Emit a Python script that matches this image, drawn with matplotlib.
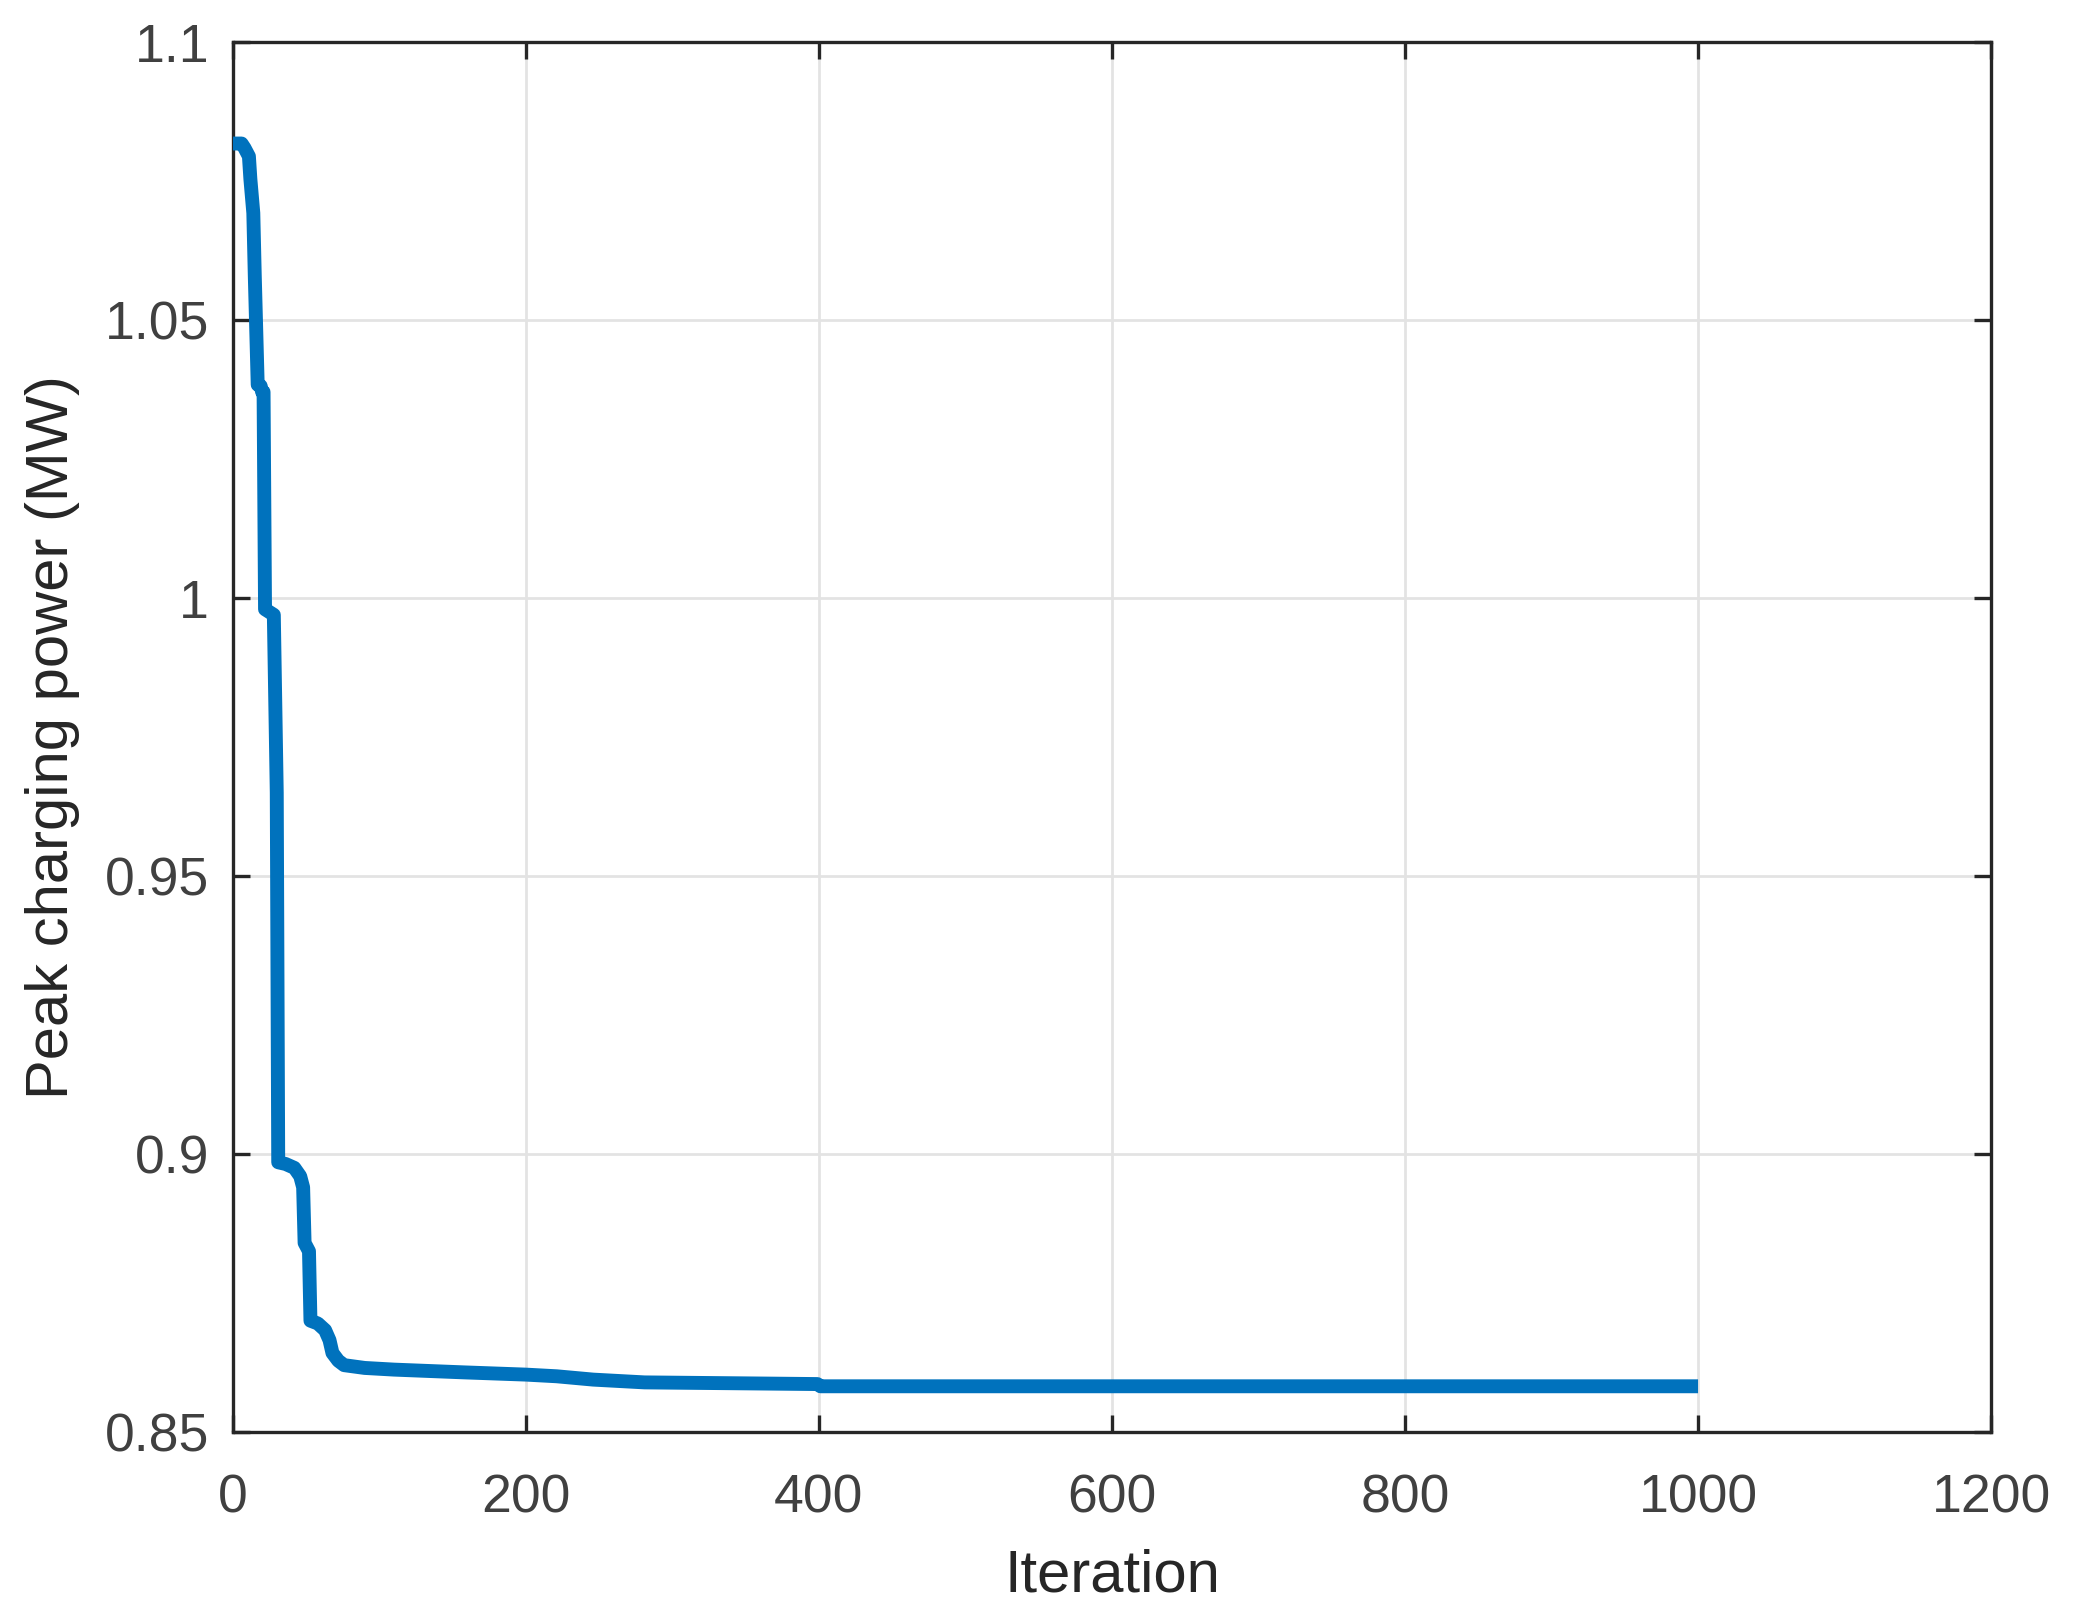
import matplotlib
matplotlib.use("Agg")
import matplotlib.pyplot as plt

# values
iterations = [0, 6, 8, 11, 12, 14, 15, 17, 19, 20, 21, 22, 25, 28, 30, 31,
              36, 42, 46, 48, 49, 52, 53, 58, 63, 66, 68, 72, 76, 90, 110,
              158, 200, 221, 246, 281, 399, 401, 1000]
peak_power = [1.0818, 1.0818, 1.0810, 1.0795, 1.0754, 1.0693, 1.0580, 1.0384,
              1.0382, 1.0371, 1.0371, 0.9980, 0.9975, 0.9970, 0.9650, 0.8985,
              0.8982, 0.8975, 0.8960, 0.8940, 0.8840, 0.8825, 0.8700, 0.8695,
              0.8683, 0.8665, 0.8642, 0.8628, 0.8620, 0.8615, 0.8612,
              0.8607, 0.8603, 0.8600, 0.8594, 0.8589, 0.8586, 0.8582, 0.8582]

x_ticks = [0, 200, 400, 600, 800, 1000, 1200]
y_ticks = [0.85, 0.9, 0.95, 1.0, 1.05, 1.1]
y_tick_labels = ["0.85", "0.9", "0.95", "1", "1.05", "1.1"]

plt.rcParams['font.family'] = ['Liberation Sans', 'DejaVu Sans']

fig = plt.figure(figsize=(20.73, 16.11), dpi=100)
ax = fig.add_axes([0.1123, 0.1112, 0.9605 - 0.1123, 0.9737 - 0.1112])

ax.plot(iterations, peak_power, color="#0072BD", linewidth=10, solid_joinstyle='round',
        solid_capstyle='butt', zorder=3)

ax.set_xlim(0, 1200)
ax.set_ylim(0.85, 1.1)
ax.set_xticks(x_ticks)
ax.set_yticks(y_ticks)
ax.set_yticklabels(y_tick_labels)

ax.grid(True, color="#e3e3e3", linewidth=2.0)
ax.set_axisbelow(True)

for side in ax.spines.values():
    side.set_color("#262626")
    side.set_linewidth(2.4)

ax.tick_params(direction='in', length=12, width=2.4, colors="#262626",
               labelsize=38.5, top=True, right=True)
ax.tick_params(axis='x', pad=30)
ax.tick_params(axis='y', pad=17)
for lbl in ax.get_xticklabels() + ax.get_yticklabels():
    lbl.set_color("#404040")

ax.set_xlabel("Iteration", fontsize=43, color="#262626", labelpad=18)
ax.set_ylabel("Peak charging power (MW)", fontsize=43, color="#262626", labelpad=18)

fig.savefig("out.png", dpi=100, facecolor="white")
